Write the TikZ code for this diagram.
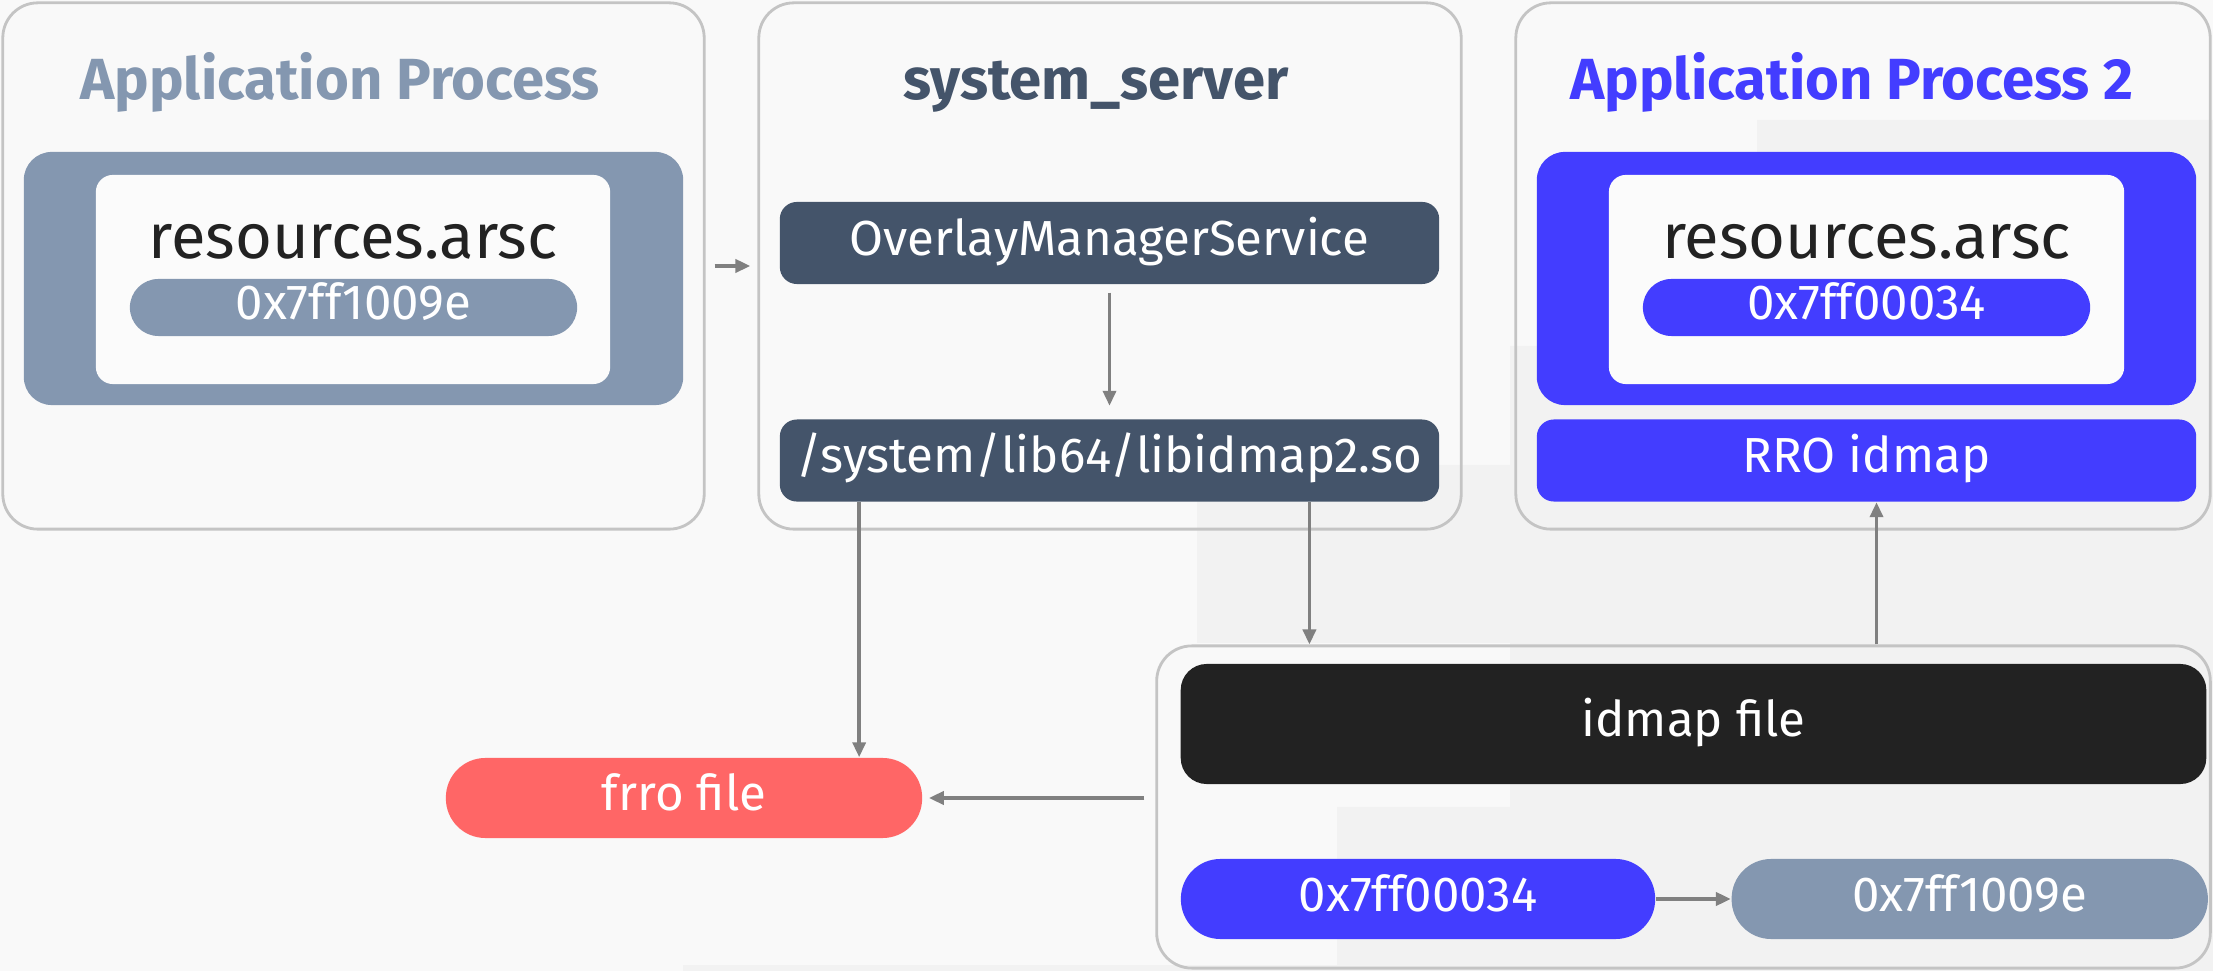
\documentclass[tikz,border=0pt]{standalone}
\usepackage{fontspec}
\setmainfont{Fira Sans}
\usepackage{tikz}
\usetikzlibrary{positioning,arrows.meta}
\definecolor{paper}{HTML}{F9F9F9}
\definecolor{tint}{HTML}{F2F2F2}
\definecolor{frame}{HTML}{C4C4C4}
\definecolor{steel}{HTML}{8497B0}
\definecolor{navy}{HTML}{44546A}
\definecolor{ultra}{HTML}{433DFF}
\definecolor{coral}{HTML}{FF6666}
\definecolor{ink}{HTML}{222222}
\definecolor{flow}{HTML}{808080}
\definecolor{sheet}{HTML}{FBFBFB}
\newcommand{\bodysize}{\fontsize{14}{17}\selectfont}
\newcommand{\bigsize}{\fontsize{18}{21}\selectfont}
\newcommand{\headsize}{\fontsize{16.5}{19}\selectfont\bfseries}
\tikzset{
  proc/.style={rectangle, rounded corners=3.5mm, draw=frame, line width=0.8pt, inner sep=0pt},
  tray/.style={rectangle, rounded corners=2.8mm, fill=#1, inner sep=0pt},
  sheetbox/.style={rectangle, rounded corners=1.7mm, fill=sheet, inner sep=0pt},
  blk/.style={rectangle, rounded corners=1.7mm, fill=#1, text=white, font=\bodysize,
              inner sep=0pt, text height=0.69em, text depth=0pt},
  pill/.style={blk=#1, rounded corners=3.95mm, minimum height=8mm},
  ttl/.style={font=\headsize, text=#1, anchor=base},
  ar/.style={-{Triangle[length=1.5mm,width=1.3mm]}, line width=1pt, draw=flow},
}

\begin{document}
\begin{tikzpicture}[x=0.01cm, y=-0.01cm]
  \fill[paper] (0,0) rectangle (2213,971);
  \useasboundingbox (0,0) rectangle (2213,971);
  \fill[tint] (1757,120) -- (2213,120) -- (2213,971) -- (683,971) -- (683,965)
    -- (1337,965) -- (1337,807) -- (1510,807) -- (1510,643) -- (1197,643)
    -- (1197,465) -- (1510,465) -- (1510,346) -- (1757,346) -- cycle;

  % process frames
  \node[proc, minimum width=70.1mm, minimum height=52.6mm] (app) at (353.5,266) {};
  \node[proc, minimum width=70.2mm, minimum height=52.6mm] (srv) at (1110,266) {};
  \node[proc, minimum width=69.4mm, minimum height=52.6mm] (app2) at (1863,266) {};
  \node[proc, minimum width=105.3mm, minimum height=32.2mm] (idc) at (1683.5,807) {};

  \node[ttl=steel] (appT) at (340,100) {Application Process};
  \node[ttl=navy] (srvT) at (1096,100) {system\_server};
  \node[ttl=ultra] (app2T) at (1852,100) {Application Process 2};

  % first application
  \node[tray=steel, minimum width=65.9mm, minimum height=25.3mm] (appTray) at (353.5,278.5) {};
  \node[sheetbox, minimum width=51.4mm, minimum height=20.9mm] (appSheet) at (353,279.5) {};
  \node[font=\bigsize, text=ink, anchor=base] (appRes) at (353,259) {resources.arsc};
  \node[pill=steel, minimum width=44.7mm, minimum height=5.7mm, rounded corners=2.85mm]
       (appId) at (353.5,307.5) {0x7ff1009e};

  % system_server
  \node[blk=navy, minimum width=65.9mm, minimum height=8.2mm] (oms) at (1109.5,243) {OverlayManagerService};
  \node[blk=navy, minimum width=65.9mm, minimum height=8.2mm, below=13.4mm of oms] (lib) {/system/lib64/libidmap2.so};

  % second application
  \node[tray=ultra, minimum width=65.9mm, minimum height=25.3mm] (app2Tray) at (1866.5,278.5) {};
  \node[sheetbox, minimum width=51.5mm, minimum height=20.9mm] (app2Sheet) at (1866.5,279.5) {};
  \node[font=\bigsize, text=ink, anchor=base] (app2Res) at (1866.5,259) {resources.arsc};
  \node[pill=ultra, minimum width=44.7mm, minimum height=5.7mm, rounded corners=2.85mm]
       (app2Id) at (1866.5,307.5) {0x7ff00034};
  \node[blk=ultra, minimum width=65.9mm, minimum height=8.2mm, below=1.3mm of app2Tray] (rro) {RRO idmap};

  % idmap contents
  \node[blk=ink, minimum width=102.5mm, minimum height=12mm, rounded corners=2.6mm] (idf) at (1693.5,724) {idmap file};
  \node[pill=ultra, minimum width=47.4mm] (idA) at (1418,899) {0x7ff00034};
  \node[pill=steel, minimum width=47.6mm, right=7.5mm of idA] (idB) {0x7ff1009e};

  \node[pill=coral, minimum width=47.6mm] (frro) at (684,798) {frro file};

  \coordinate (tapL) at ([xshift=8mm]lib.south west);
  \coordinate (tapR) at ([xshift=53mm]lib.south west);
  \coordinate (tapU) at ([xshift=1mm]rro.south);

  \draw[ar, line width=1.2pt, shorten <=0.9mm, shorten >=0.7mm] (app) -- (srv);
  \draw[ar, shorten <=0.8mm, shorten >=1.3mm] (oms) -- (lib);
  \draw[ar] (tapL) -- (tapL |- frro.north);
  \draw[ar] (tapR) -- (tapR |- idc.north);
  \draw[ar] (tapU |- idc.north) -- (tapU);
  \draw[ar, line width=1.2pt, shorten <=1.1mm, shorten >=0.6mm] (idc.west |- frro.east) -- (frro.east);
  \draw[ar, line width=1.4pt] (idA) -- (idB);
\end{tikzpicture}
\end{document}
